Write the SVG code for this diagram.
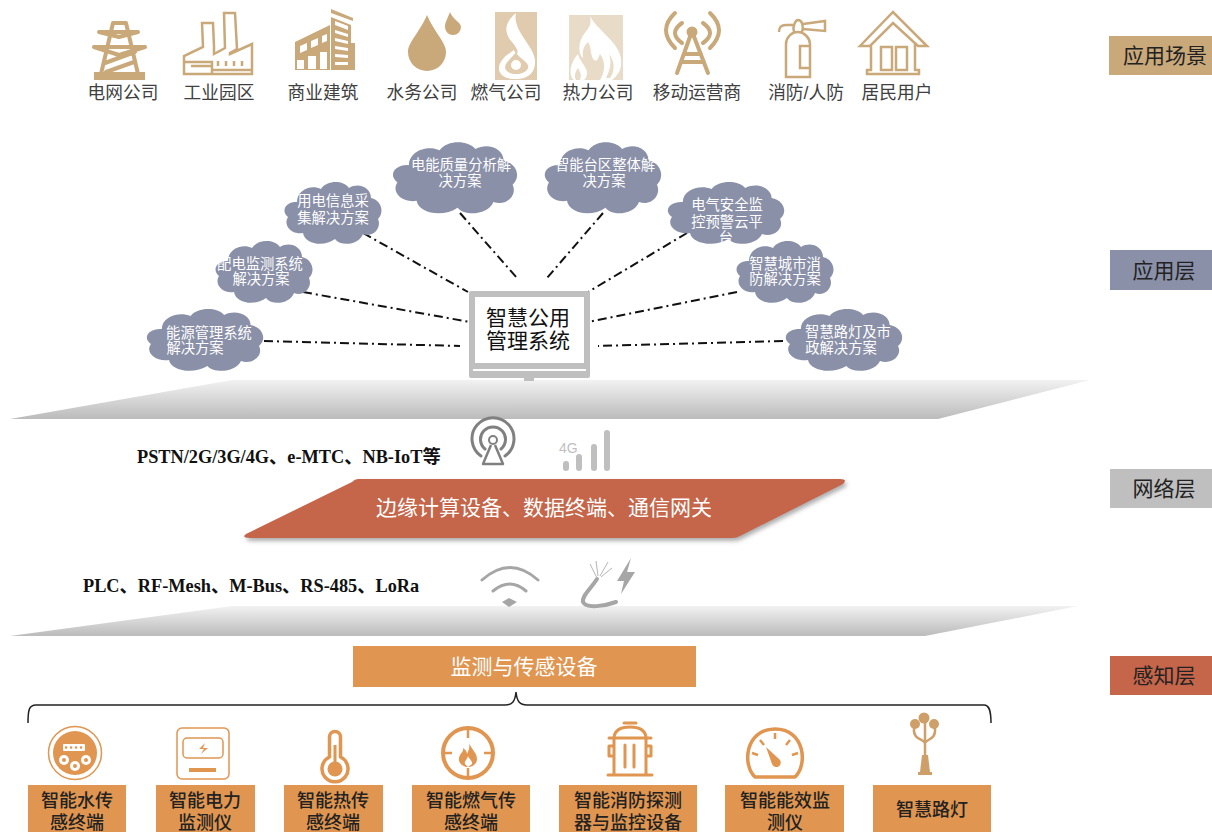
<svg xmlns="http://www.w3.org/2000/svg" width="1212" height="832" viewBox="0 0 1212 832">
<style>
text{font-family:"Liberation Sans","Noto Sans CJK SC",sans-serif}
.top{font-size:17.700px;fill:#404040;text-anchor:middle}
.cl{font-size:14.300px;fill:#fff;text-anchor:middle}
.lay{font-size:21px;fill:#222;text-anchor:middle}
.mon{font-size:21px;fill:#111;text-anchor:middle}
.sen{font-size:18px;fill:#222;text-anchor:middle;font-weight:500}
.net{font-family:"Liberation Serif","Noto Sans CJK SC",serif;font-size:18.300px;font-weight:700;fill:#111}
.wt{font-size:21px;fill:#fff;text-anchor:middle}
.cloud{fill:#8a90a8}
.link{fill:none;stroke:#111;stroke-width:2;stroke-dasharray:9 4 2 4}
.gold{fill:#c9a87a}
.gs{fill:none;stroke:#c9a87a;stroke-width:2.500;stroke-linejoin:miter}
.gt{fill:none;stroke:#c9a87a;stroke-linecap:round;stroke-linejoin:round}
.or{fill:#e09550}
.os{fill:none;stroke:#e09550;stroke-linecap:round;stroke-linejoin:round}
.box{fill:#e09550}
</style>
<defs>
<path id="c" d="M-36,-12 C-36,-24 -22,-30 -12,-25 C-6,-34 10,-34 16,-26 C26,-32 38,-26 38,-16 C48,-14 52,-2 45,5 C49,14 40,24 30,20 C26,31 8,33 2,25 C-8,33 -28,31 -30,19 C-42,21 -50,11 -45,3 C-53,-4 -46,-13 -36,-12Z"/>
<linearGradient id="pl" x1="0" y1="0" x2="0" y2="1"><stop offset="0" stop-color="#f2f2f2"/><stop offset="1" stop-color="#bbb"/></linearGradient>
<filter id="sh" x="-5%" y="-15%" width="110%" height="130%"><feDropShadow dx="2" dy="3" stdDeviation="2" flood-color="#777" flood-opacity=".6"/></filter>
</defs>
<rect width="1212" height="832" fill="#fff"/>

<g id="planes">
<polygon points="10,419 232,380 1090,380 938,419" fill="url(#pl)"/>
<polygon points="10,636 232,606 1078,606 925,636" fill="url(#pl)"/>
</g>

<g id="connectors">
<path class="link" d="M264,341L460,346"/>
<path class="link" d="M303,292L470,322"/>
<path class="link" d="M363,233L468,292"/>
<path class="link" d="M460,213L517,278"/>
<path class="link" d="M603,213L547,278"/>
<path class="link" d="M687,233L588,292"/>
<path class="link" d="M737,292L588,322"/>
<path class="link" d="M783,341L598,346"/>
</g>

<g id="scene-grid">
<g id="scene-power"><path class="gt" style="stroke-width:4" d="M113,23H126M113,23L101,74M126,23L138,74M99,32H138M99,32L119,37L138,32M94,47H145M94,47L119,55L145,47M105,63L135,52M106,72L134,62"/><rect class="gold" x="94" y="72" width="51" height="8"/><text class="top" x="123" y="99">电网公司</text></g>
<g id="scene-industry"><path class="gs" d="M184,74V56L203,47L202,23H213L214,47V54L225,48L224,13H235L237,49L230,53V54L252,44V74Z"/><path class="gs" d="M184,62H212V74M191,66H212M212,70H252"/><path d="M218,61v5M226,61v5M234,61v5M242,61v5" stroke="#c9a87a" stroke-width="2.500"/><text class="top" x="219" y="99">工业园区</text></g>
<g id="scene-commercial"><path class="gold" d="M295,42L330,25V70H295Z"/><path class="gold" d="M331,17L351,25V43H355V70H331Z"/><path class="gold" d="M331,9L353,18V21L331,13Z"/><path fill="#fff" d="M300,46l7,-3v7l-7,3zM311,41l7,-3v7l-7,3zM322,36l5,-2v7l-5,2zM297,60h7v9h-7zM308,56h8v13h-8zM320,52h7v17h-7zM335,21l13,5v4l-13,-5zM335,30l13,4v3l-13,-4zM335,38l13,3v3l-13,-3zM335,46l13,2v3l-13,-2zM335,54l13,1v3l-13,-1zM335,62h13v3h-13z"/><text class="top" x="323" y="99">商业建筑</text></g>
<g id="scene-water"><path class="gold" d="M427,15C420,32 408,42 408,52A19,19 0 0 0 446,52C446,42 434,32 427,15Z"/><path class="gold" d="M450,12C447,20 445,22 445,27A8,8 0 0 0 461,27C461,22 453,20 450,12Z"/><text class="top" x="422" y="99">水务公司</text></g>
<g id="scene-gas"><rect x="495" y="12" width="42" height="68" fill="#e0cbae"/><path fill="#fff" d="M516,13C505,22 503,32 512,42C522,54 516,56 514,50C508,54 498,60 499,70C501,78 510,79 516,79C526,79 536,74 535,60C534,46 512,30 516,13Z"/><path fill="#e0cbae" d="M516,52C512,58 505,62 505,68C507,76 525,76 528,68C530,62 518,58 516,52Z"/><circle cx="516" cy="65" r="5" fill="#fff"/><text class="top" x="506" y="99">燃气公司</text></g>
<g id="scene-heat"><rect x="569" y="15" width="54" height="65" fill="#e8dcc8"/><path fill="#fff" d="M590,16C596,28 612,38 618,50C623,60 623,72 612,80H600C605,72 606,62 600,54C598,58 598,62 594,60C590,56 592,48 588,42C584,46 582,50 583,58C578,54 578,42 584,34C589,28 592,24 590,16Z"/><path fill="#fff" d="M578,54C580,62 588,68 587,74C586,78 585,80 583,80H574C569,76 569,64 578,54Z"/><path fill="#e8dcc8" d="M578,68C580,72 582,74 580,80H576C574,76 575,72 578,68ZM609,54C614,60 616,70 610,78H606C610,70 612,62 609,54Z"/><text class="top" x="598" y="99">热力公司</text></g>
<g id="scene-mobile"><circle class="gold" cx="692" cy="32" r="5.500"/><path class="gt" style="stroke-width:4" d="M691,34L677,73M693,34L708,73M684,54H701M681,62H704"/><path class="gt" style="stroke-width:4" d="M682,23Q668,33 682,43M703,23Q717,33 703,43M675,13Q657,30 675,48M710,13Q728,30 710,48"/><text class="top" x="697" y="99">移动运营商</text></g>
<g id="scene-fire"><path class="gs" d="M786,77H810V44C810,38 804,32 798,32C791,32 786,38 786,44ZM810,46H800V68H810M794,32C792,26 796,20 798,20C802,20 804,26 802,32M793,25H786C780,25 779,28 779,32M803,24L825,21V31L803,29"/><text class="top" x="806" y="99">消防/人防</text></g>
<g id="scene-home"><path class="gs" d="M860,46L893,12L927,46H918L893,23L870,46ZM871,46V70H867V74H919V70H915V42M881,47H892V70H881ZM896,47H907V70H896Z"/><text class="top" x="897" y="99">居民用户</text></g>
</g>

<g id="cloud-energy"><use href="#c" class="cloud" transform="translate(205,341) scale(1.2,1)"/><text class="cl" x="209" y="338">能源管理系统</text><text class="cl" x="195" y="353">解决方案</text></g>
<g id="cloud-dist"><use href="#c" class="cloud" transform="translate(264,273)"/><text class="cl" x="260" y="269">配电监测系统</text><text class="cl" x="261" y="284">解决方案</text></g>
<g id="cloud-usage"><use href="#c" class="cloud" transform="translate(333,214)"/><text class="cl" x="333" y="206">用电信息采</text><text class="cl" x="333" y="223">集解决方案</text></g>
<g id="cloud-quality"><use href="#c" class="cloud" transform="translate(455,179) scale(1.28,1.15)"/><text class="cl" x="461" y="170">电能质量分析解</text><text class="cl" x="460" y="186">决方案</text></g>
<g id="cloud-area"><use href="#c" class="cloud" transform="translate(603,179) scale(1.2,1.15)"/><text class="cl" x="605" y="170">智能台区整体解</text><text class="cl" x="604" y="186">决方案</text></g>
<g id="cloud-safety"><use href="#c" class="cloud" transform="translate(726,214) scale(1.2,1)"/><text class="cl" x="727" y="210">电气安全监</text><text class="cl" x="727" y="227">控预警云平</text><text class="cl" x="726" y="243">台</text></g>
<g id="cloud-fire"><use href="#c" class="cloud" transform="translate(785,273)"/><text class="cl" x="785" y="269">智慧城市消</text><text class="cl" x="785" y="284">防解决方案</text></g>
<g id="cloud-lamp"><use href="#c" class="cloud" transform="translate(844,341) scale(1.2,1)"/><text class="cl" x="848" y="337">智慧路灯及市</text><text class="cl" x="841" y="353">政解决方案</text></g>

<g id="monitor"><rect x="469" y="291" width="121" height="87" rx="2" fill="#bfbfbf"/><rect x="475" y="297" width="109" height="66" fill="#fff"/><rect x="473" y="369" width="113" height="2" fill="#fff"/><rect x="524" y="378" width="10" height="3" fill="#bfbfbf"/><text class="mon" x="528" y="325">智慧公用</text><text class="mon" x="528" y="348">管理系统</text></g>

<g id="radio-icon" fill="none" stroke="#808080" stroke-width="3"><path d="M481,456A21,21 0 1 1 505,456M485,449A12.500,12.500 0 1 1 501,449" stroke-linecap="round"/><circle cx="493" cy="440" r="4" stroke-width="2"/><path d="M491,445L483,464H503L495,445" stroke-width="2.500" stroke-linejoin="round"/></g>
<g id="signal-icon"><text x="559" y="453" font-size="14" fill="#bfbfbf">4G</text><rect x="563" y="461" width="6" height="10" rx="3" fill="#bfbfbf"/><rect x="576" y="454" width="6" height="17" rx="3" fill="#bfbfbf"/><rect x="591" y="444" width="6" height="27" rx="3" fill="#bfbfbf"/><rect x="604" y="430" width="6" height="41" rx="3" fill="#bfbfbf"/></g>
<text class="net" x="137" y="463">PSTN/2G/3G/4G、e-MTC、NB-IoT等</text>

<g id="edge"><path d="M358,479H840Q848,479 843,484L740,536Q737,538 732,538H250Q241,538 246,534L352,482Q355,479 358,479Z" fill="#c5654a" filter="url(#sh)"/><text class="wt" x="544" y="515">边缘计算设备、数据终端、通信网关</text></g>

<text class="net" x="83" y="592">PLC、RF-Mesh、M-Bus、RS-485、LoRa</text>
<g id="wifi-icon"><path d="M482,580Q510,555 538,580M493,591Q510,577 526,591" fill="none" stroke="#a6a6a6" stroke-width="3" stroke-linecap="round"/><path d="M502,602L509,598L517,602L509,607Z" fill="#a6a6a6"/></g>
<g id="cable-icon"><path d="M597,579C590,590 582,595 583,602C586,609 605,606 616,602" fill="none" stroke="#a6a6a6" stroke-width="4" stroke-linecap="round"/><path d="M597,578L590,564M598,576L596,561M600,576L608,562M601,577L612,568" stroke="#b5b5b5" stroke-width="1"/><path d="M631,558L617,581H624L621,594L635,572H627Z" fill="#a6a6a6"/></g>

<g id="sense-head"><rect class="box" x="353" y="646" width="343" height="41"/><text class="wt" x="524" y="674">监测与传感设备</text></g>
<path id="brace" d="M28,723C28,710 29,705 36,705H505C512,705 515,702 516,692C517,702 520,705 527,705H984C989,705 991,710 991,723" fill="none" stroke="#222" stroke-width="1.500"/>

<g id="s-water"><circle cx="75" cy="753" r="26.500" fill="none" stroke="#e09550" stroke-width="1.500"/><circle class="or" cx="75" cy="753" r="22"/><rect x="63" y="744" width="22" height="7" rx="1" fill="#fff"/><path d="M66,747.500h.1M71,747.500h.1M76,747.500h.1M81,747.500h.1" stroke="#e09550" stroke-width="2.500" stroke-linecap="round"/><circle cx="64" cy="760" r="5" fill="#fff"/><circle cx="86" cy="760" r="5" fill="#fff"/><circle cx="75" cy="766" r="5" fill="#fff"/><circle class="or" cx="64" cy="760" r="2"/><circle class="or" cx="86" cy="760" r="2"/><circle class="or" cx="75" cy="766" r="2"/><rect class="box" x="28" y="785" width="98" height="47"/><text class="sen" x="77" y="807">智能水传</text><text class="sen" x="77" y="829">感终端</text></g>
<g id="s-power"><rect class="os" style="stroke-width:1.500" x="177" y="728" width="52" height="51" rx="5"/><rect class="os" style="stroke-width:1.500" x="183" y="738" width="40" height="20" rx="4"/><path class="or" d="M205,743L199,749H204L201,754L208,748H203Z"/><rect class="or" x="189" y="768" width="27" height="4"/><rect class="box" x="156" y="785" width="99" height="47"/><text class="sen" x="205" y="807">智能电力</text><text class="sen" x="205" y="829">监测仪</text></g>
<g id="s-heat"><path class="os" style="stroke-width:3.500" d="M329.500,757V737A5.500,5.500 0 0 1 340.500,737V757A13,13 0 1 1 329.500,757Z"/><circle class="or" cx="335" cy="769" r="7.500"/><rect class="or" x="333.500" y="745" width="3" height="22"/><rect class="box" x="284" y="785" width="99" height="47"/><text class="sen" x="333" y="807">智能热传</text><text class="sen" x="333" y="829">感终端</text></g>
<g id="s-gas"><circle cx="468" cy="753" r="25" fill="none" stroke="#e09550" stroke-width="4"/><path d="M468,727V738M468,768V778M442,753H452M484,753H494" stroke="#e09550" stroke-width="2.500"/><path class="or" d="M469,742C470,748 477,752 477,759C477,765 471,767 468,767C463,767 458,763 459,758C460,753 464,752 463,748C466,750 467,752 467,754C469,750 470,746 469,742Z"/><path fill="#fff" d="M468,756C467,760 464,761 465,764L468,767L472,764C473,761 469,759 468,756Z"/><rect class="box" x="412" y="785" width="118" height="47"/><text class="sen" x="471" y="807">智能燃气传</text><text class="sen" x="471" y="829">感终端</text></g>
<g id="s-hydrant"><path class="os" style="stroke-width:3" d="M614,737C615,730 620,727 630,727C640,727 645,730 646,737M609,738H651M614,738V775M646,738V775M608,775H652M624,723H636M625,745V767M634,745V767M613,746H609V756H613M647,746H651V756H647"/><rect class="box" x="559" y="785" width="138" height="47"/><text class="sen" x="628" y="807">智能消防探测</text><text class="sen" x="628" y="829">器与监控设备</text></g>
<g id="s-gauge"><path class="os" style="stroke-width:3.500" d="M755,777C742,765 745,729 775,729C805,729 808,765 795,777Z"/><path d="M775,733v6M760,740l4,5M790,740l-4,5M752,753l6,2M798,753l-6,2" stroke="#e09550" stroke-width="2.500"/><path class="or" d="M766,747L779,759A4.500,4.500 0 1 1 772,764Z"/><rect class="box" x="725" y="785" width="119" height="47"/><text class="sen" x="785" y="807">智能能效监</text><text class="sen" x="785" y="829">测仪</text></g>
<g id="s-lamp"><circle cx="924" cy="718" r="5.500" fill="#cf9f6a"/><circle cx="915" cy="724" r="5" fill="#cf9f6a"/><circle cx="934" cy="724" r="5" fill="#cf9f6a"/><path d="M925,722V755M914,728C913,740 922,738 925,743C928,738 936,740 935,728" fill="none" stroke="#cf9f6a" style="stroke-width:2.500"/><path d="M922,755H928L930,772H920Z" fill="#cf9f6a"/><rect x="918" y="772" width="14" height="3" fill="#cf9f6a"/><rect class="box" x="873" y="785" width="118" height="47"/><text class="sen" x="932" y="816">智慧路灯</text></g>

<g id="lay-1"><rect x="1109" y="36" width="103" height="39" fill="#c9a87a"/><text class="lay" x="1165" y="63">应用场景</text></g>
<g id="lay-2"><rect x="1110" y="250" width="102" height="40" fill="#8a90a8"/><text class="lay" x="1164" y="278">应用层</text></g>
<g id="lay-3"><rect x="1110" y="469" width="102" height="39" fill="#bfbfbf"/><text class="lay" x="1164" y="496">网络层</text></g>
<g id="lay-4"><rect x="1110" y="656" width="102" height="39" fill="#c5654a"/><text class="lay" x="1164" y="683">感知层</text></g>
</svg>
